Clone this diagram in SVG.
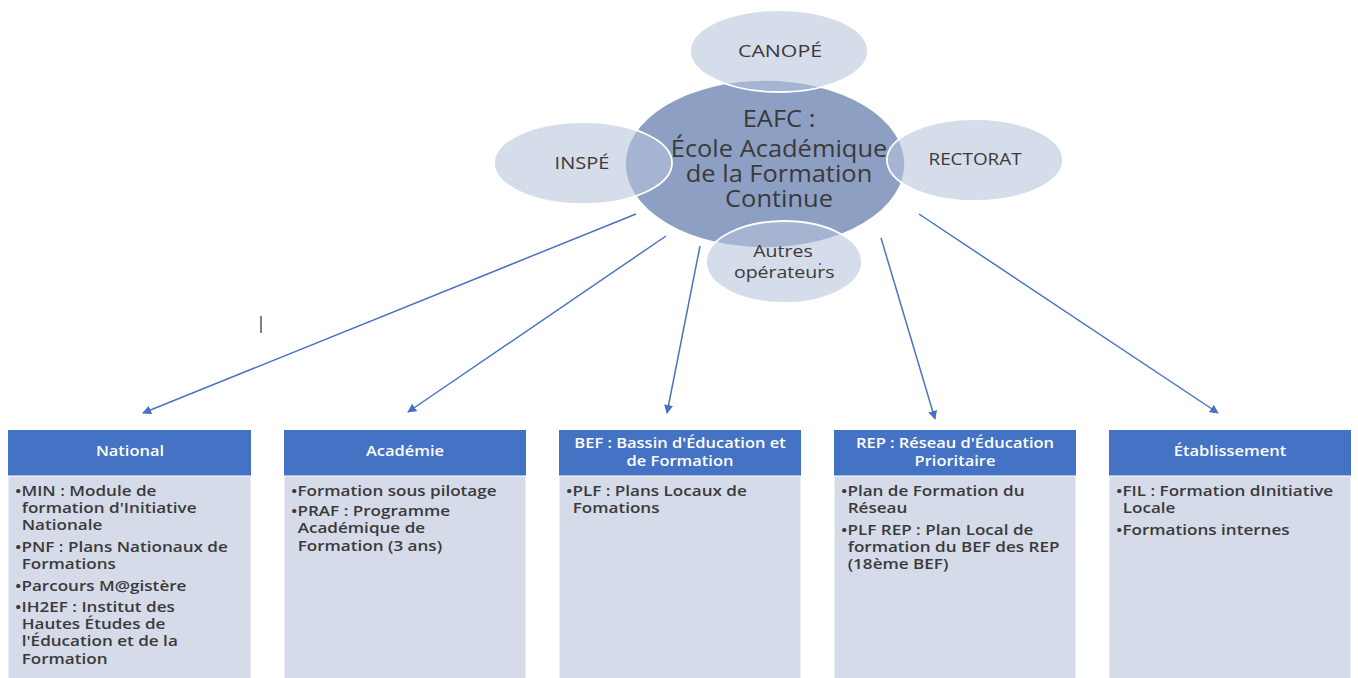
<svg xmlns="http://www.w3.org/2000/svg" width="1358" height="678" viewBox="0 0 1358 678">
<defs>
<style>
.bg{fill:#ffffff}
.core{fill:#8e9fc4;stroke:#ffffff;stroke-width:1.5}
.sat{fill:#b7c2db;fill-opacity:0.58;stroke:#ffffff;stroke-width:1.8}
.ct{font-family:"Open Sans","Liberation Sans",sans-serif;fill:#3a3a3a;text-anchor:middle}
.hd{fill:#4472c4}
.bd{fill:#d5dbe9;stroke:#ffffff;stroke-width:1}
.ht{font-family:"Open Sans","Liberation Sans",sans-serif;font-size:13.5px;font-weight:600;fill:#ffffff;text-anchor:middle}
.bt{font-family:"Open Sans","Liberation Sans",sans-serif;font-size:14px;font-weight:600;fill:#3a3a3a}
.ln{stroke:#4a74c0;stroke-width:1.5;fill:none;marker-end:url(#ah)}
</style>
<marker id="ah" viewBox="0 0 10 10" refX="9" refY="5" markerWidth="6" markerHeight="6" orient="auto" markerUnits="strokeWidth">
<path d="M0,0 L10,5 L0,10 z" fill="#4472c4"/>
</marker>
</defs>
<rect class="bg" x="0" y="0" width="1358" height="678"/>

<g id="eafc">
<ellipse class="core" cx="765" cy="164" rx="140" ry="84"/>
</g>
<g id="canope">
<ellipse class="sat" cx="779" cy="51" rx="89" ry="41"/>
<text class="ct" transform="translate(780,57) scale(1.33,1)" x="0" y="0" font-size="16">CANOPÉ</text>
</g>
<g id="inspe">
<ellipse class="sat" cx="583" cy="163" rx="89" ry="41"/>
<text class="ct" transform="translate(582,169) scale(1.25,1)" x="0" y="0" font-size="16">INSPÉ</text>
</g>
<g id="rectorat">
<ellipse class="sat" cx="975" cy="160" rx="88" ry="41"/>
<text class="ct" transform="translate(975,165) scale(1.18,1)" x="0" y="0" font-size="16">RECTORAT</text>
</g>
<g id="autres">
<ellipse class="sat" cx="784" cy="262" rx="78" ry="41"/>
<text class="ct" transform="translate(783,0) scale(1.22,1)" font-size="16"><tspan x="0" y="257">Autres</tspan><tspan x="1" y="278">opérateurs</tspan></text>
<circle cx="820" cy="264" r="1" fill="#2f3fd0"/>
</g>
<g id="eafc-text">
<text class="ct" transform="translate(779,0) scale(1.06,1)" font-size="24"><tspan x="0" y="127">EAFC :</tspan><tspan x="0" y="157">École Académique</tspan><tspan x="0" y="182">de la Formation</tspan><tspan x="0" y="207">Continue</tspan></text>
</g>

<g id="connectors">
<line class="ln" x1="636" y1="214" x2="143" y2="413"/>
<line class="ln" x1="666" y1="236" x2="408" y2="412"/>
<line class="ln" x1="700" y1="246" x2="667" y2="413"/>
<line class="ln" x1="881" y1="238" x2="935" y2="419"/>
<line class="ln" x1="919" y1="214" x2="1218" y2="413"/>
</g>

<line x1="261" y1="316" x2="261" y2="333" stroke="#555555" stroke-width="1.5"/>

<g id="national">
<rect class="hd" x="8" y="430" width="243" height="46"/>
<rect class="bd" x="8" y="476" width="243" height="204"/>
<text class="ht" transform="translate(130,456) scale(1.22,1)" x="0" y="0">National</text>
<text class="bt" transform="translate(15,0) scale(1.22,1)"><tspan x="0" y="496">•MIN : Module de</tspan><tspan x="5.5" y="513">formation d'Initiative</tspan><tspan x="5.5" y="530">Nationale</tspan><tspan x="0" y="552">•PNF : Plans Nationaux de</tspan><tspan x="5.5" y="569">Formations</tspan><tspan x="0" y="591">•Parcours M@gistère</tspan><tspan x="0" y="612">•IH2EF : Institut des</tspan><tspan x="5.5" y="629">Hautes Études de</tspan><tspan x="5.5" y="646">l'Éducation et de la</tspan><tspan x="5.5" y="664">Formation</tspan></text>
</g>
<g id="academie">
<rect class="hd" x="284" y="430" width="242" height="46"/>
<rect class="bd" x="284" y="476" width="242" height="204"/>
<text class="ht" transform="translate(405,456) scale(1.22,1)" x="0" y="0">Académie</text>
<text class="bt" transform="translate(291,0) scale(1.22,1)"><tspan x="0" y="496">•Formation sous pilotage</tspan><tspan x="0" y="516">•PRAF : Programme</tspan><tspan x="5.5" y="533">Académique de</tspan><tspan x="5.5" y="551">Formation (3 ans)</tspan></text>
</g>
<g id="bef">
<rect class="hd" x="559" y="430" width="242" height="46"/>
<rect class="bd" x="559" y="476" width="242" height="204"/>
<text class="ht" transform="translate(680,0) scale(1.22,1)"><tspan x="0" y="448">BEF : Bassin d'Éducation et</tspan><tspan x="0" y="466">de Formation</tspan></text>
<text class="bt" transform="translate(566,0) scale(1.22,1)"><tspan x="0" y="496">•PLF : Plans Locaux de</tspan><tspan x="5.5" y="513">Fomations</tspan></text>
</g>
<g id="rep">
<rect class="hd" x="834" y="430" width="242" height="46"/>
<rect class="bd" x="834" y="476" width="242" height="204"/>
<text class="ht" transform="translate(955,0) scale(1.22,1)"><tspan x="0" y="448">REP : Réseau d'Éducation</tspan><tspan x="0" y="466">Prioritaire</tspan></text>
<text class="bt" transform="translate(841,0) scale(1.22,1)"><tspan x="0" y="496">•Plan de Formation du</tspan><tspan x="5.5" y="513">Réseau</tspan><tspan x="0" y="535">•PLF REP : Plan Local de</tspan><tspan x="5.5" y="552">formation du BEF des REP</tspan><tspan x="5.5" y="569">(18ème BEF)</tspan></text>
</g>
<g id="etablissement">
<rect class="hd" x="1109" y="430" width="242" height="46"/>
<rect class="bd" x="1109" y="476" width="242" height="204"/>
<text class="ht" transform="translate(1230,456) scale(1.22,1)" x="0" y="0">Établissement</text>
<text class="bt" transform="translate(1116,0) scale(1.22,1)"><tspan x="0" y="496">•FIL : Formation dInitiative</tspan><tspan x="5.5" y="513">Locale</tspan><tspan x="0" y="535">•Formations internes</tspan></text>
</g>
</svg>
